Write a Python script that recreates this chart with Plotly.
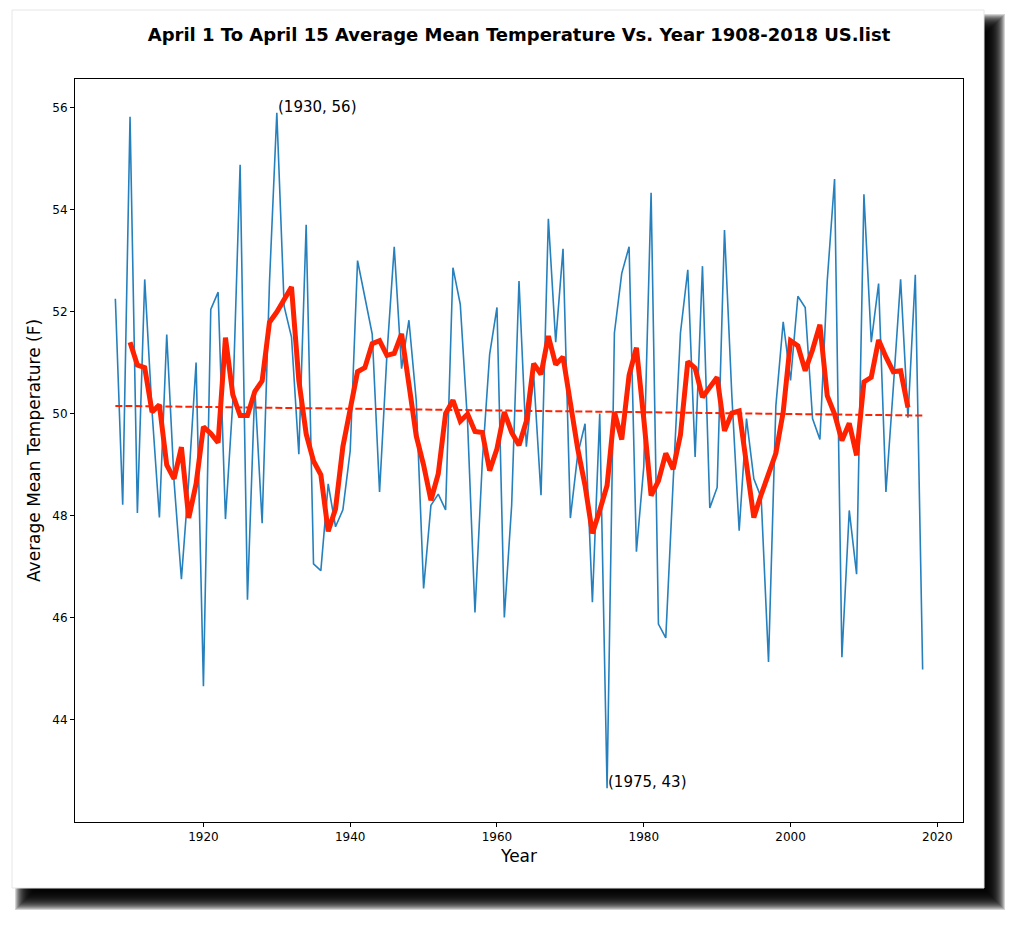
"""
April 1 - April 15 average mean temperature, US.list, 1908-2018
"""

import plotly.graph_objects as go

# Yearly values (F), 1908..2018
years = list(range(1908, 2019))
avg_temp = [
    52.25, 48.21, 55.82, 48.05, 52.63, 50.04, 47.96, 51.55, 48.67, 46.75,  # 1908-1917
    48.69, 51.00, 44.65, 52.04, 52.38, 47.93, 50.22, 54.88, 46.35, 50.50,  # 1918-1927
    47.85, 52.57, 55.90, 52.10, 51.50, 49.20, 53.70, 47.05, 46.92, 48.62,  # 1928-1937
    47.78, 48.11, 49.27, 53.00, 52.28, 51.56, 48.46, 51.14, 53.27, 50.88,  # 1938-1947
    51.83, 50.25, 46.57, 48.20, 48.42, 48.11, 52.86, 52.14, 49.80, 46.10,  # 1948-1957
    49.05, 51.16, 52.08, 46.00, 48.20, 52.60, 49.35, 50.75, 48.40, 53.82,  # 1958-1967
    51.40, 53.23, 47.95, 49.20, 49.80, 46.30, 50.00, 42.65, 51.58, 52.75,  # 1968-1977
    53.27, 47.29, 48.95, 54.33, 45.87, 45.60, 48.65, 51.58, 52.82, 49.15,  # 1978-1987
    52.89, 48.15, 48.55, 53.60, 50.36, 47.70, 49.90, 48.72, 48.35, 45.13,  # 1988-1997
    50.15, 51.80, 50.65, 52.30, 52.08, 49.90, 49.49, 52.60, 54.60, 45.22,  # 1998-2007
    48.10, 46.85, 54.30, 51.40, 52.55, 48.46, 50.50, 52.63, 49.92, 52.72,  # 2008-2017
    44.98,                                                                 # 2018
]

# 5-year centred moving average, 1910..2016
ma_years = list(range(1910, 2017))
ma_temp = [
    51.40, 50.95, 50.90, 50.03, 50.17, 48.99, 48.72, 49.34, 47.95, 48.62,  # 1910-1919
    49.74, 49.61, 49.43, 51.49, 50.37, 49.96, 49.96, 50.43, 50.64, 51.79,  # 1920-1929
    51.99, 52.25, 52.48, 50.65, 49.60, 49.07, 48.80, 47.69, 48.13, 49.35,  # 1930-1939
    50.08, 50.82, 50.90, 51.37, 51.43, 51.14, 51.18, 51.56, 50.57, 49.56,  # 1940-1949
    48.99, 48.30, 48.82, 50.00, 50.26, 49.85, 49.99, 49.65, 49.63, 48.88,  # 1950-1959
    49.31, 50.03, 49.63, 49.38, 49.85, 50.98, 50.77, 51.52, 50.96, 51.11,  # 1960-1969
    50.21, 49.31, 48.59, 47.65, 48.10, 48.59, 50.03, 49.49, 50.75, 51.29,  # 1970-1979
    49.90, 48.39, 48.68, 49.22, 48.91, 49.58, 51.02, 50.89, 50.32, 50.50,  # 1980-1989
    50.71, 49.66, 50.01, 50.05, 49.04, 47.96, 48.41, 48.82, 49.22, 50.03,  # 1990-1999
    51.43, 51.33, 50.84, 51.25, 51.74, 50.35, 49.99, 49.47, 49.81, 49.18,  # 2000-2009
    50.62, 50.71, 51.44, 51.11, 50.82, 50.84, 50.12,                       # 2010-2016
]

# Linear trend end points
trend_years = [1908, 2018]
trend_temp = [50.15, 49.96]

x_ticks = [1920, 1940, 1960, 1980, 2000, 2020]
y_ticks = [44, 46, 48, 50, 52, 54, 56]

title = "April 1 To April 15 Average Mean Temperature Vs. Year 1908-2018 US.list"
font = "DejaVu Sans"

# The page body has an 8px margin, so everything is laid out 8px up/left
OFF = 8
W, H = 1024 - OFF, 929 - OFF
L, R, T, B = 75 - OFF, 963 - OFF, 79 - OFF, 822 - OFF


def px_x(p):
    return (p - OFF - L) / (R - L)


def px_y(p):
    return (B - (p - OFF)) / (B - T)


fig = go.Figure()

fig.add_trace(go.Scatter(x=years, y=avg_temp, mode="lines",
                         line=dict(color="#2580bd", width=1.6)))
fig.add_trace(go.Scatter(x=trend_years, y=trend_temp, mode="lines",
                         line=dict(color="#ff2200", width=2, dash="7px,3px")))
fig.add_trace(go.Scatter(x=ma_years, y=ma_temp, mode="lines",
                         line=dict(color="#ff2200", width=5)))

# Max / min labels
i_max = avg_temp.index(max(avg_temp))
i_min = avg_temp.index(min(avg_temp))
for i in (i_max, i_min):
    fig.add_annotation(x=years[i], y=avg_temp[i], xref="x", yref="y",
                       text=f"({years[i]}, {round(avg_temp[i])})",
                       showarrow=False, xanchor="left", yanchor="bottom",
                       yshift=-4, borderpad=0,
                       font=dict(family=font, size=15, color="#000000"))

# Soft drop shadow behind the white figure (screen pixel coords)
shapes = []
fx0, fy0, fx1, fy1 = 12, 10, 984, 888
dx, dy = 12, 13
for k in range(-9, 10):
    shapes.append(dict(type="rect", xref="paper", yref="paper", layer="below",
                       x0=px_x(fx0 + dx - k), x1=px_x(fx1 + dx + k),
                       y0=px_y(fy1 + dy + k), y1=px_y(fy0 + dy - k),
                       line=dict(width=0), fillcolor="rgba(0,0,0,0.17)"))
shapes.append(dict(type="rect", xref="paper", yref="paper", layer="below",
                   x0=px_x(fx0), x1=px_x(fx1), y0=px_y(fy1), y1=px_y(fy0),
                   line=dict(color="#e6e6e6", width=1), fillcolor="#ffffff"))

fig.update_layout(
    width=W, height=H,
    margin=dict(l=L, r=W - R, t=T, b=H - B, autoexpand=False),
    paper_bgcolor="#ffffff",
    plot_bgcolor="rgba(0,0,0,0)",
    showlegend=False,
    shapes=shapes,
    title=dict(text=f"<b>{title}</b>", x=0.5, xref="paper", xanchor="center",
               y=1 - (35 - OFF) / H, yanchor="middle",
               font=dict(family=font, size=18, color="#000000")),
    font=dict(family=font, color="#000000"),
)

fig.update_xaxes(range=[1902.5, 2023.5], tickvals=x_ticks,
                 showgrid=False, zeroline=False,
                 showline=True, mirror=True, linecolor="#000000", linewidth=1,
                 ticks="outside", ticklen=4, tickcolor="#000000",
                 tickfont=dict(family=font, size=12, color="#000000"),
                 title=dict(text="Year", standoff=6,
                            font=dict(family=font, size=17, color="#000000")))
fig.update_yaxes(range=[41.99, 56.56], tickvals=y_ticks,
                 showgrid=False, zeroline=False,
                 showline=True, mirror=True, linecolor="#000000", linewidth=1,
                 ticks="outside", ticklen=4, tickcolor="#000000",
                 tickfont=dict(family=font, size=12, color="#000000"),
                 title=dict(text="Average Mean Temperature (F)", standoff=7,
                            font=dict(family=font, size=17, color="#000000")))

fig.write_html("out.html")
